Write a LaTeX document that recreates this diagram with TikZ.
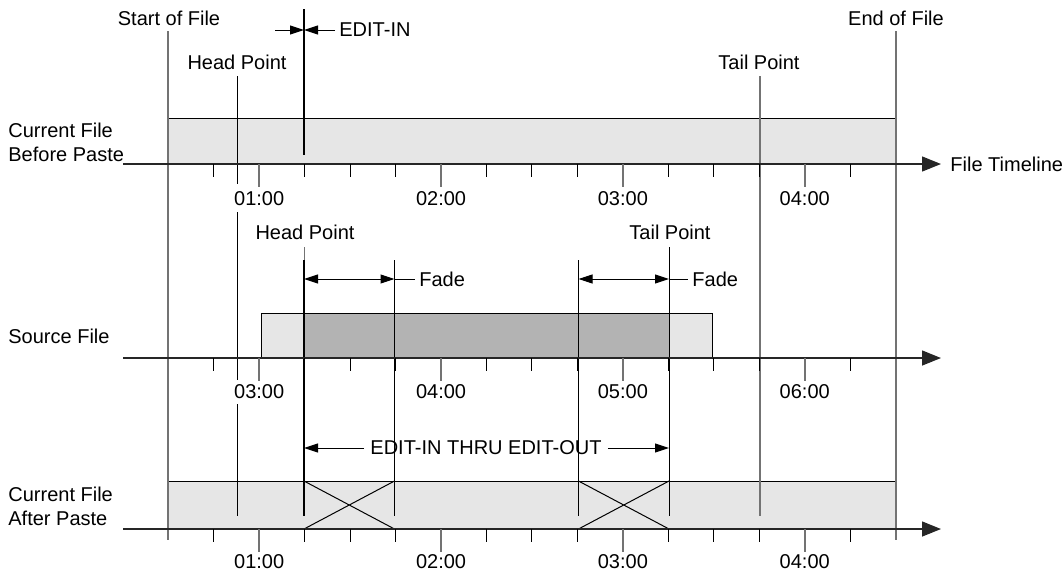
\documentclass[tikz,border=0pt]{standalone}
\usepackage{fontspec}
\setmainfont{Liberation Sans}
\usetikzlibrary{arrows.meta, positioning}
\definecolor{filegray}{RGB}{230,230,230}
\definecolor{pastegray}{RGB}{179,179,179}
\definecolor{markgray}{RGB}{115,115,115}

\begin{document}
\begin{tikzpicture}[x=0.5pt, y=-0.5pt,
    font=\fontsize{10}{12}\selectfont,
    txt/.style={inner sep=0pt},
    pad/.style={inner sep=2pt},
    filebox/.style={draw=black, line width=0.5pt, fill=filegray},
    pastebox/.style={draw=black, line width=0.5pt, fill=pastegray},
    thinline/.style={line width=0.5pt},
    markline/.style={line width=0.85pt, color=markgray},
    editline/.style={line width=1.1pt},
    timeline/.style={line width=0.7pt, color=black!85, -{Triangle[length=9.5pt, width=7.5pt]}},
    tip/.style={line width=0.5pt, -{Triangle[length=7pt, width=4.5pt]}},
    twotip/.style={line width=0.5pt, {Triangle[length=7pt, width=4.5pt]}-{Triangle[length=7pt, width=4.5pt]}},
    minortick/.style={line width=0.5pt},
    hourtick/.style={line width=0.85pt, color=markgray}
]
\useasboundingbox (0,0) rectangle (1064,574);

% File bars (drawn first, lines go over them)
\draw[filebox] (168.3,118) rectangle (895.7,164);
\draw[filebox] (261,313) rectangle (712,358);
\draw[pastebox] (304,313) rectangle (669,358);
\draw[filebox] (168.3,481) rectangle (895.7,529);
% crossfades in the pasted file
\draw[thinline] (304,481) -- (394.5,529) (304,529) -- (394.5,481);
\draw[thinline] (578.5,481) -- (669,529) (578.5,529) -- (669,481);

% Top labels
\node[txt] (sofLbl) at (169,18) {Start of File};
\node[txt] (eofLbl) at (896,18) {End of File};
\node[txt] (headLbl) at (237,62) {Head Point};
\node[txt] (tailLbl) at (759,62) {Tail Point};
\node[pad, anchor=west] (editinLbl) at (335,30) {EDIT-IN};

% Row labels
\node[txt, anchor=west, align=left] (beforeLbl) at (8,142) {Current File\\Before Paste};
\node[txt, anchor=west] (srcLbl) at (8,336) {Source File};
\node[txt, anchor=west, align=left] (afterLbl) at (8,506) {Current File\\After Paste};

% Marker lines
\draw[markline] (168.3,31) -- (168.3,540);
\draw[markline] (895.7,31) -- (895.7,540);
\draw[markline] (760,76) -- (760,516);
\draw[thinline] (237,76) -- (237,184) (237,212) -- (237,380) (237,404) -- (237,516);
\draw[editline] (304,9) -- (304,155);
\draw[markline, line width=0.5pt] (304,247) -- (304,260);
\draw[editline] (304,260) -- (304,516);
\draw[thinline] (394.5,260) -- (394.5,516);
\draw[thinline] (578.5,260) -- (578.5,516);
\draw[thinline] (669,247) -- (669,516);

% EDIT-IN pointer
\coordinate (editinPt) at (304,30);
\coordinate (editinFrom) at (275,30);
\draw[tip] (editinFrom) -- (editinPt);
\draw[tip] (editinLbl.west) -- (editinPt);

% Source row labels and fades
\node[txt] (headSrc) at (305,232) {Head Point};
\node[txt] (tailSrc) at (670,232) {Tail Point};
\coordinate (fadeInA) at (304,279);
\coordinate (fadeInB) at (394.5,279);
\coordinate (fadeOutA) at (578.5,279);
\coordinate (fadeOutB) at (669,279);
\node[pad, anchor=west] (fadeInLbl) at (415,279) {Fade};
\node[pad, anchor=west] (fadeOutLbl) at (688,279) {Fade};
\draw[twotip] (fadeInA) -- (fadeInB);
\draw[thinline] (fadeInB) -- (fadeInLbl.west);
\draw[twotip] (fadeOutA) -- (fadeOutB);
\draw[thinline] (fadeOutB) -- (fadeOutLbl.west);

% Edit span
\node[inner sep=3pt] (spanLbl) at (486,448) {EDIT-IN THRU EDIT-OUT};
\coordinate (spanIn) at (304,448);
\coordinate (spanOut) at (669,448);
\draw[tip] (spanLbl.west) -- (spanIn);
\draw[tip] (spanLbl.east) -- (spanOut);

% Timelines
\coordinate (lineA) at (123,164);
\coordinate (lineAend) at (941,164);
\coordinate (lineB) at (123,358);
\coordinate (lineBend) at (941,358);
\coordinate (lineC) at (123,529);
\coordinate (lineCend) at (941,529);
\draw[timeline] (lineA) -- (lineAend);
\draw[timeline] (lineB) -- (lineBend);
\draw[timeline] (lineC) -- (lineCend);
\node[txt, anchor=west] (timelineLbl) at (950,164) {File Timeline};

% Ticks every quarter hour
\foreach \y in {164,358,529} {
  \foreach \i in {1,3,4,5,7,8,9,11,12,13,15}
    \draw[minortick] ({168.3+45.46*\i},\y) -- ++(0,13);
  \foreach \i in {2,6,10,14}
    \draw[hourtick] ({168.3+45.46*\i},\y) -- ++(0,23);
}

% Hour labels
\foreach \t [count=\k from 0] in {01:00,02:00,03:00,04:00}
  \node[txt] (hrA\k) at ({259.2+181.84*\k},199) {\t};
\foreach \t [count=\k from 0] in {03:00,04:00,05:00,06:00}
  \node[txt] (hrB\k) at ({259.2+181.84*\k},392) {\t};
\foreach \t [count=\k from 0] in {01:00,02:00,03:00,04:00}
  \node[txt] (hrC\k) at ({259.2+181.84*\k},562) {\t};
\end{tikzpicture}
\end{document}
